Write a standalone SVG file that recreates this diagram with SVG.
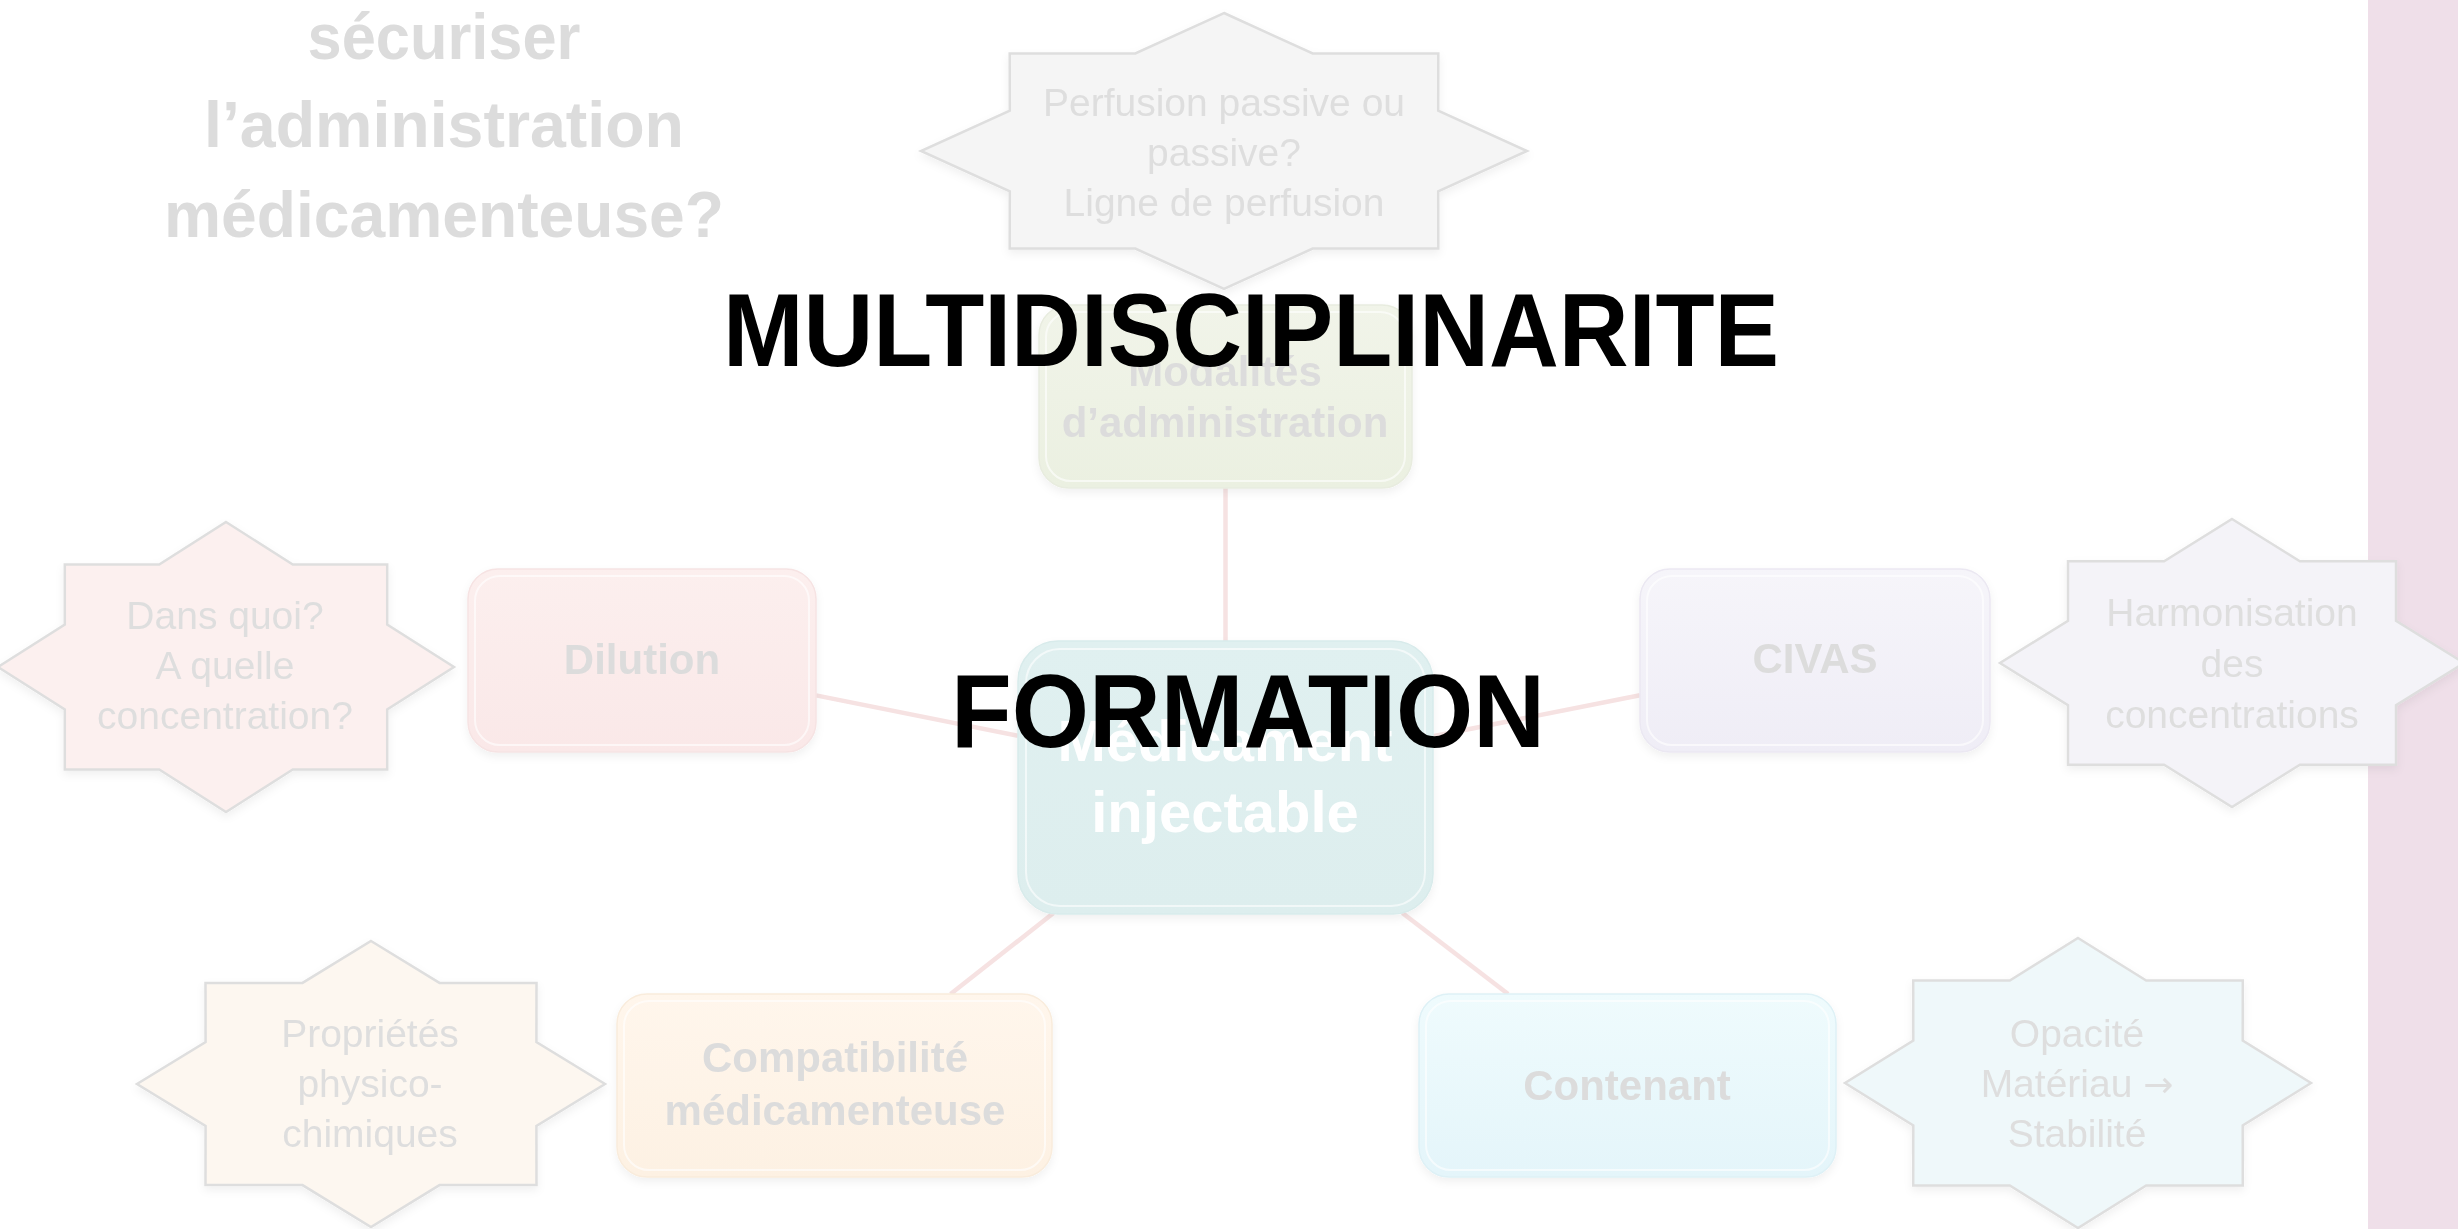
<svg xmlns="http://www.w3.org/2000/svg" width="2458" height="1229" viewBox="0 0 2458 1229">
<defs>
<style>
.ttl{font-family:"Liberation Sans",Arial,sans-serif;font-weight:bold;font-size:64px;fill:#dcdcdc;text-anchor:middle}
.big{font-family:"Liberation Sans",Arial,sans-serif;font-weight:bold;font-size:104px;fill:#000}
.bt{font-family:"Liberation Sans",Arial,sans-serif;font-weight:bold;font-size:42px;fill:#dcdcdc;text-anchor:middle}
.ct{font-family:"Liberation Sans",Arial,sans-serif;font-weight:bold;font-size:58px;fill:#ffffff;text-anchor:middle}
.st{font-family:"Liberation Sans",Arial,sans-serif;font-size:39px;fill:#dedede;text-anchor:middle}
.arr{font-family:"DejaVu Sans",sans-serif;font-size:36px}
.star{stroke:#dedede;stroke-width:2.5;stroke-linejoin:miter}
.box{stroke-width:1.5}
.hl{fill:none;stroke:#ffffff;stroke-opacity:0.6;stroke-width:2}
.con{stroke:#f6e2e2;stroke-width:4.5;fill:none}
</style>
<filter id="sh" x="-10%" y="-10%" width="120%" height="130%">
<feDropShadow dx="0" dy="4" stdDeviation="4" flood-color="#000" flood-opacity="0.06"/>
</filter>
<linearGradient id="gMod" x1="0" y1="0" x2="0" y2="1"><stop offset="0" stop-color="#f1f4e9"/><stop offset="1" stop-color="#ebf0e1"/></linearGradient>
<linearGradient id="gDil" x1="0" y1="0" x2="0" y2="1"><stop offset="0" stop-color="#fcefee"/><stop offset="1" stop-color="#fae8e8"/></linearGradient>
<linearGradient id="gCiv" x1="0" y1="0" x2="0" y2="1"><stop offset="0" stop-color="#f6f5fa"/><stop offset="1" stop-color="#efedf6"/></linearGradient>
<linearGradient id="gCom" x1="0" y1="0" x2="0" y2="1"><stop offset="0" stop-color="#fff6ec"/><stop offset="1" stop-color="#fdf1e3"/></linearGradient>
<linearGradient id="gCon" x1="0" y1="0" x2="0" y2="1"><stop offset="0" stop-color="#effbfd"/><stop offset="1" stop-color="#e4f5fa"/></linearGradient>
<linearGradient id="gMed" x1="0" y1="0" x2="0" y2="1"><stop offset="0" stop-color="#e0f0f0"/><stop offset="1" stop-color="#ddeeee"/></linearGradient>
</defs>

<rect x="0" y="0" width="2458" height="1229" fill="#ffffff"/>
<rect id="band" x="2368" y="0" width="90" height="1229" fill="#efdfe9"/>

<g id="title">
<text class="ttl" x="444" y="59" textLength="273" lengthAdjust="spacingAndGlyphs">sécuriser</text>
<text class="ttl" x="444" y="147" textLength="480" lengthAdjust="spacingAndGlyphs">l’administration</text>
<text class="ttl" x="444" y="237" textLength="560" lengthAdjust="spacingAndGlyphs">médicamenteuse?</text>
</g>

<g id="connectors">
<line class="con" x1="1225.5" y1="641" x2="1225.5" y2="488"/>
<line class="con" x1="1018" y1="735.8" x2="816" y2="695.4"/>
<line class="con" x1="1433" y1="736.3" x2="1640" y2="695.2"/>
<line class="con" x1="1053.5" y1="913" x2="950.6" y2="994"/>
<line class="con" x1="1402.4" y1="913" x2="1508.1" y2="994"/>
</g>

<g id="star-perfusion" filter="url(#sh)">
<polygon class="star" fill="#f5f5f5" points="1224,13 1312.7,53.5 1438.3,53.4 1438.2,110.6 1527,151 1438.2,191.4 1438.3,248.6 1312.7,248.5 1224,289 1135.3,248.5 1009.7,248.6 1009.8,191.4 921,151 1009.8,110.6 1009.7,53.4 1135.3,53.5"/>
<text class="st" x="1224" y="116">Perfusion passive ou</text>
<text class="st" x="1224" y="166">passive?</text>
<text class="st" x="1224" y="216">Ligne de perfusion</text>
</g>

<g id="star-dilution" filter="url(#sh)">
<polygon class="star" fill="#fcf0ef" points="226,522 292.8,564.5 387.2,564.5 387.2,624.5 454,667 387.2,709.5 387.2,769.5 292.8,769.5 226,812 159.2,769.5 64.8,769.5 64.8,709.5 -2,667 64.8,624.5 64.8,564.5 159.2,564.5"/>
<text class="st" x="225" y="629">Dans quoi?</text>
<text class="st" x="225" y="679">A quelle</text>
<text class="st" x="225" y="729">concentration?</text>
</g>

<g id="star-civas" filter="url(#sh)">
<polygon class="star" fill="#f4f3f8" points="2232,519 2299.9,561.2 2396,561.2 2396,620.8 2464,663 2396,705.2 2396,764.8 2299.9,764.8 2232,807 2164.1,764.8 2068,764.8 2068,705.2 2000,663 2068,620.8 2068,561.2 2164.1,561.2"/>
<text class="st" x="2232" y="626">Harmonisation</text>
<text class="st" x="2232" y="677">des</text>
<text class="st" x="2232" y="728">concentrations</text>
</g>

<g id="star-compat" filter="url(#sh)">
<polygon class="star" fill="#fdf7f0" points="371,941 439.5,982.9 536.5,982.9 536.4,1042.1 605,1084 536.4,1125.9 536.5,1185.1 439.5,1185.1 371,1227 302.5,1185.1 205.5,1185.1 205.6,1125.9 137,1084 205.6,1042.1 205.5,982.9 302.5,982.9"/>
<text class="st" x="370" y="1047">Propriétés</text>
<text class="st" x="370" y="1097">physico-</text>
<text class="st" x="370" y="1147">chimiques</text>
</g>

<g id="star-contenant" filter="url(#sh)">
<polygon class="star" fill="#eff8fa" points="2078,938 2146.2,980.5 2242.8,980.5 2242.7,1040.5 2311,1083 2242.7,1125.5 2242.8,1185.5 2146.2,1185.5 2078,1228 2009.8,1185.5 1913.2,1185.5 1913.3,1125.5 1845,1083 1913.3,1040.5 1913.2,980.5 2009.8,980.5"/>
<text class="st" x="2077" y="1047">Opacité</text>
<text class="st" x="2077" y="1097">Matériau <tspan class="arr">→</tspan></text>
<text class="st" x="2077" y="1147">Stabilité</text>
</g>

<g id="node-modalites" filter="url(#sh)">
<rect class="box" x="1039" y="305" width="373" height="183" rx="30" fill="url(#gMod)" stroke="#e8ecdf"/>
<rect class="hl" x="1046" y="312" width="359" height="169" rx="25"/>
<text class="bt" x="1225" y="386">Modalités</text>
<text class="bt" x="1225" y="437">d’administration</text>
</g>

<g id="node-dilution" filter="url(#sh)">
<rect class="box" x="468" y="569" width="348" height="183" rx="30" fill="url(#gDil)" stroke="#f6e3e3"/>
<rect class="hl" x="475" y="576" width="334" height="169" rx="25"/>
<text class="bt" x="642" y="674">Dilution</text>
</g>

<g id="node-civas" filter="url(#sh)">
<rect class="box" x="1640" y="569" width="350" height="183" rx="30" fill="url(#gCiv)" stroke="#ebe8f2"/>
<rect class="hl" x="1647" y="576" width="336" height="169" rx="25"/>
<text class="bt" x="1815" y="673">CIVAS</text>
</g>

<g id="node-compat" filter="url(#sh)">
<rect class="box" x="617" y="994" width="435" height="183" rx="30" fill="url(#gCom)" stroke="#f9ecdc"/>
<rect class="hl" x="624" y="1001" width="421" height="169" rx="25"/>
<text class="bt" x="835" y="1072">Compatibilité</text>
<text class="bt" x="835" y="1125">médicamenteuse</text>
</g>

<g id="node-contenant" filter="url(#sh)">
<rect class="box" x="1419" y="994" width="417" height="183" rx="30" fill="url(#gCon)" stroke="#def1f6"/>
<rect class="hl" x="1426" y="1001" width="403" height="169" rx="25"/>
<text class="bt" x="1627" y="1100">Contenant</text>
</g>

<g id="node-medicament" filter="url(#sh)">
<rect class="box" x="1018" y="641" width="415" height="273" rx="40" fill="url(#gMed)" stroke="#d8ebeb"/>
<rect class="hl" x="1026" y="649" width="399" height="257" rx="34"/>
<text class="ct" x="1225" y="761">Médicament</text>
<text class="ct" x="1225" y="832">injectable</text>
</g>

<g id="overlay">
<text class="big" x="723" y="366" textLength="1056" lengthAdjust="spacingAndGlyphs">MULTIDISCIPLINARITE</text>
<text class="big" x="951" y="747" textLength="594" lengthAdjust="spacingAndGlyphs">FORMATION</text>
</g>
</svg>
